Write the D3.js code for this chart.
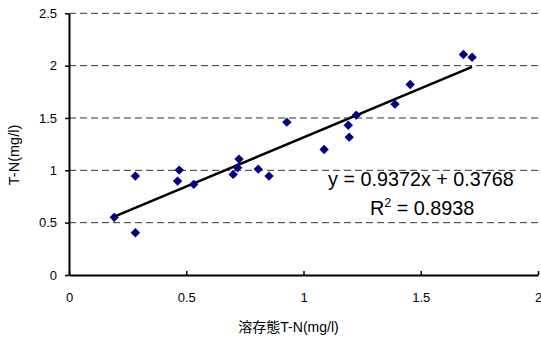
<!DOCTYPE html>
<html>
<head>
<meta charset="utf-8">
<script src="https://cdn.jsdelivr.net/npm/d3@7"></script>
<style>
  html, body { margin: 0; padding: 0; background: #fff; }
  svg { display: block; }
  text { font-family: "Liberation Sans", Arial, "Noto Sans CJK JP", sans-serif; fill: #000; }
</style>
</head>
<body>
<svg id="chart" width="541" height="338"></svg>
<script>
// Dissolved T-N (x) vs total T-N (y), mg/l
const dissolvedTN = [0.193, 0.283, 0.283, 0.470, 0.463, 0.532, 0.700, 0.719, 0.725, 0.807,
                     0.853, 0.929, 1.088, 1.191, 1.195, 1.225, 1.390, 1.455, 1.682, 1.719];
const totalTN     = [0.551, 0.945, 0.404, 1.002, 0.897, 0.866, 0.961, 1.024, 1.107, 1.011,
                     0.945, 1.460, 1.199, 1.431, 1.317, 1.527, 1.632, 1.820, 2.106, 2.080];

// Linear fit shown on the chart
const fitSlope = 0.9372;
const fitIntercept = 0.3768;
const fitR2 = 0.8938;

const xTicks = [0, 0.5, 1, 1.5, 2];
const yTicks = [0, 0.5, 1, 1.5, 2, 2.5];
const xTitle = "溶存態T-N(mg/l)";
const yTitle = "T-N(mg/l)";

const svg = d3.select("#chart");
const plotLeft = 69, plotRight = 538, plotTop = 13.3, plotBottom = 275;

const x = d3.scaleLinear().domain([0, 2]).range([plotLeft, plotRight]);
const y = d3.scaleLinear().domain([0, 2.5]).range([plotBottom, plotTop]);

// dashed horizontal gridlines
svg.append("g")
  .selectAll("line")
  .data(yTicks.filter(d => d > 0))
  .join("line")
  .attr("x1", plotLeft).attr("x2", plotRight)
  .attr("y1", d => y(d)).attr("y2", d => y(d))
  .attr("stroke", "#333")
  .attr("stroke-width", 1)
  .attr("stroke-dasharray", "7,4");

const fmt = d => String(d);

// y axis
const gy = svg.append("g")
  .attr("transform", `translate(${plotLeft},0)`)
  .call(d3.axisLeft(y).tickValues(yTicks).tickFormat(fmt)
    .tickSizeInner(4).tickSizeOuter(0).tickPadding(8));
gy.select(".domain").attr("stroke", "#000").attr("stroke-width", 2);
gy.selectAll(".tick line").attr("stroke", "#000").attr("stroke-width", 1.5);
gy.selectAll(".tick text").style("font-size", "13px").attr("font-family", null);

// x axis, ticks pointing into the plot
const gx = svg.append("g")
  .attr("transform", `translate(0,${plotBottom})`)
  .call(d3.axisBottom(x).tickValues(xTicks).tickFormat(fmt)
    .tickSizeInner(-4).tickSizeOuter(0).tickPadding(18));
gx.select(".domain").attr("stroke", "#000").attr("stroke-width", 2);
gx.selectAll(".tick line").attr("stroke", "#000").attr("stroke-width", 1.5);
gx.selectAll(".tick text").style("font-size", "13px").attr("font-family", null);

// regression line over the observed x range
const [xmin, xmax] = d3.extent(dissolvedTN);
svg.append("line")
  .attr("x1", x(xmin)).attr("y1", y(fitSlope * xmin + fitIntercept))
  .attr("x2", x(xmax)).attr("y2", y(fitSlope * xmax + fitIntercept))
  .attr("stroke", "#000")
  .attr("stroke-width", 2.5);

// data markers: navy diamonds
const diamond = d3.symbol().type(d3.symbolSquare).size(44);
svg.append("g")
  .selectAll("path")
  .data(dissolvedTN.map((v, i) => [v, totalTN[i]]))
  .join("path")
  .attr("d", diamond)
  .attr("transform", d => `translate(${x(d[0])},${y(d[1])}) rotate(45)`)
  .attr("fill", "#000080");

// regression equation
svg.append("text")
  .attr("x", 328).attr("y", 186)
  .style("font-size", "19.8px")
  .text(`y = ${fitSlope}x + ${fitIntercept}`);
const r2 = svg.append("text")
  .attr("x", 370).attr("y", 214.5)
  .style("font-size", "19.8px");
r2.append("tspan").text("R");
r2.append("tspan").attr("dy", -8).style("font-size", "12.5px").text("2");
r2.append("tspan").attr("dy", 8).text(` = ${fitR2}`);

// axis titles
svg.append("text")
  .attr("x", 288.5).attr("y", 332)
  .attr("text-anchor", "middle")
  .style("font-size", "14px")
  .text(xTitle);
svg.append("text")
  .attr("transform", "translate(19,155) rotate(-90)")
  .attr("text-anchor", "middle")
  .style("font-size", "14.5px")
  .text(yTitle);
</script>
</body>
</html>
